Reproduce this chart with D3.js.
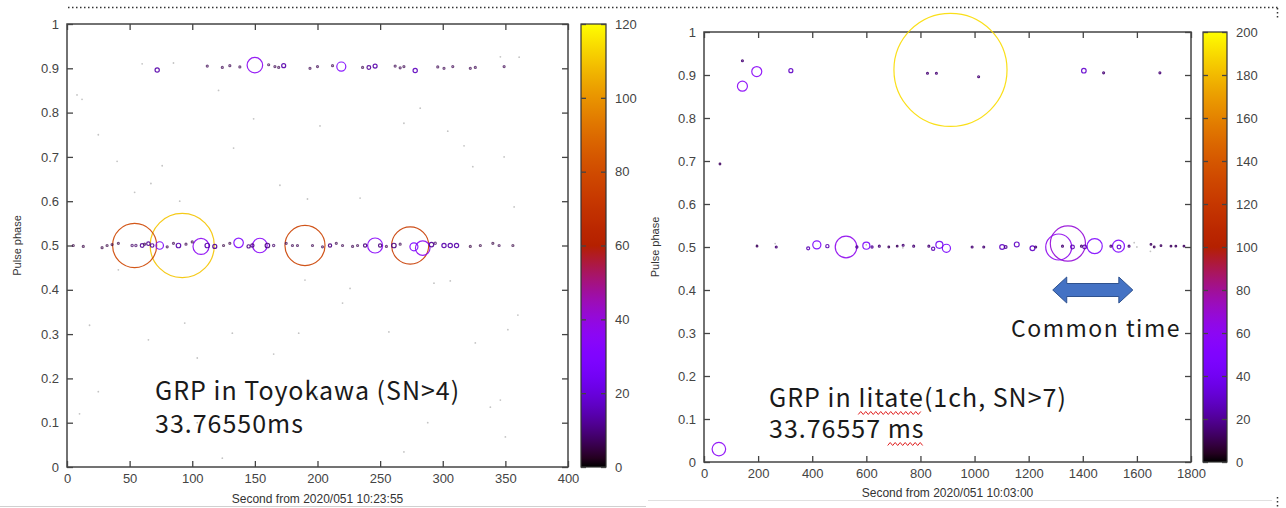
<!DOCTYPE html>
<html>
<head>
<meta charset="utf-8">
<script src="https://cdn.jsdelivr.net/npm/d3@7"></script>
<style>
html, body { margin: 0; padding: 0; background: #fff; }
svg { display: block; }
text { font-family: "Liberation Sans", Arial, sans-serif; }
.note { font-family: "Noto Sans CJK JP", "Noto Sans", sans-serif; fill: #1a1a1a; }
</style>
</head>
<body>
<svg id="fig" width="1286" height="508"></svg>
<script>
// pulses: [seconds, pulse phase, SN, circle radius in seconds]
var toyoPulses = [
	[54, 0.500, 78, 17.6], [92, 0.500, 110, 25.6], [190, 0.500, 76, 16.0], [274, 0.500, 74, 14.8],
	[107, 0.498, 36, 6.4], [150, 0.907, 36, 6.2], [154, 0.500, 34, 5.8], [246, 0.500, 34, 6.0],
	[284, 0.494, 36, 5.8], [137, 0.506, 30, 3.8], [219, 0.904, 30, 3.6], [74, 0.500, 28, 3.0],
	[277, 0.497, 28, 3.2],
	[72, 0.896, 14, 1.7], [173, 0.906, 14, 1.6], [241, 0.902, 12, 1.5], [246, 0.905, 14, 1.6],
	[278, 0.895, 16, 1.7], [60, 0.500, 12, 1.5], [89, 0.500, 14, 1.8], [112, 0.500, 14, 1.8],
	[118, 0.498, 12, 1.6], [160, 0.500, 10, 1.8], [261, 0.500, 10, 1.8], [291, 0.502, 12, 1.8],
	[301, 0.500, 14, 1.7], [306, 0.500, 14, 1.7], [311, 0.500, 14, 1.7], [65, 0.504, 12, 1.4],
	[68, 0.500, 12, 1.4], [145, 0.498, 10, 1.3], [148, 0.500, 10, 1.3], [210, 0.500, 10, 1.3],
	[238, 0.500, 10, 1.3], [250, 0.500, 10, 1.3],
	[112, 0.905, 6, 0.8], [124, 0.902, 6, 0.8], [130, 0.906, 6, 0.8], [138, 0.903, 6, 0.8],
	[161, 0.908, 6, 0.8], [166, 0.904, 6, 0.8], [169, 0.902, 6, 0.8], [194, 0.900, 6, 0.8],
	[200, 0.904, 6, 0.8], [212, 0.906, 6, 0.8], [236, 0.902, 6, 0.8], [262, 0.905, 6, 0.8],
	[266, 0.901, 6, 0.8], [269, 0.904, 6, 0.8], [296, 0.903, 6, 0.8], [301, 0.900, 6, 0.8],
	[308, 0.904, 6, 0.8], [322, 0.900, 6, 0.8], [326, 0.902, 6, 0.8], [349, 0.904, 6, 0.8],
	[5, 0.500, 5, 0.8], [13, 0.498, 5, 0.8], [28, 0.495, 5, 0.8], [32, 0.500, 5, 0.8],
	[36, 0.502, 5, 0.8], [41, 0.505, 5, 0.8], [52, 0.500, 8, 0.9], [55, 0.500, 8, 0.9],
	[62, 0.503, 6, 0.8], [80, 0.497, 6, 0.8], [85, 0.505, 6, 0.8], [95, 0.503, 6, 0.8],
	[100, 0.508, 5, 0.8], [125, 0.500, 5, 0.8], [130, 0.505, 5, 0.8], [165, 0.500, 8, 0.9],
	[175, 0.505, 6, 0.8], [180, 0.500, 6, 0.8], [184, 0.500, 6, 0.8], [196, 0.500, 6, 0.8],
	[204, 0.497, 6, 0.8], [215, 0.505, 6, 0.8], [220, 0.500, 6, 0.8], [228, 0.498, 6, 0.8],
	[232, 0.500, 6, 0.8], [255, 0.498, 6, 0.8], [266, 0.503, 6, 0.8], [294, 0.505, 8, 0.9],
	[322, 0.498, 5, 0.8], [330, 0.500, 5, 0.8], [340, 0.505, 5, 0.8], [345, 0.500, 6, 0.8],
	[356, 0.500, 5, 0.8]
];

// faint low-SN detections: [seconds, pulse phase]
var toyoNoise = [
	[8, 0.84], [12, 0.83], [25, 0.75], [40, 0.69], [54, 0.62], [67, 0.64], [76, 0.68], [90, 0.60],
	[121, 0.85], [133, 0.72], [149, 0.786], [192, 0.605], [170, 0.636], [202, 0.77],
	[18, 0.32], [41, 0.445], [65, 0.287], [94, 0.325], [104, 0.246], [132, 0.302], [165, 0.255],
	[185, 0.302], [190, 0.422], [200, 0.158], [124, 0.02], [104, 0.10], [25, 0.17], [10, 0.12],
	[293, 0.415], [306, 0.42], [257, 0.305], [326, 0.28], [352, 0.31], [346, 0.151], [338, 0.135],
	[288, 0.10], [350, 0.068], [269, 0.034], [220, 0.37], [226, 0.403], [360, 0.343],
	[346, 0.926], [361, 0.925], [282, 0.81], [349, 0.70], [324, 0.678], [317, 0.725], [304, 0.758],
	[234, 0.607], [357, 0.587], [269, 0.776], [60, 0.91], [85, 0.912]
];

var iitatePulses = [
	[911, 0.912, 190, 209], [55, 0.030, 58, 25], [142, 0.874, 58, 18.5], [195, 0.908, 58, 18.5],
	[321, 0.910, 28, 7.4], [1404, 0.910, 30, 8.5], [525, 0.500, 62, 40], [417, 0.505, 45, 15],
	[600, 0.503, 45, 13], [870, 0.505, 40, 13], [896, 0.497, 45, 15], [1311, 0.500, 62, 48],
	[1345, 0.508, 68, 65], [1444, 0.502, 50, 28], [1532, 0.502, 50, 22], [1534, 0.500, 30, 7],
	[385, 0.497, 25, 5.5], [456, 0.502, 25, 6], [621, 0.500, 20, 4], [847, 0.496, 25, 6],
	[1102, 0.500, 28, 9], [1115, 0.500, 20, 5], [1156, 0.506, 28, 9], [1214, 0.497, 28, 9],
	[1362, 0.500, 25, 7], [1407, 0.500, 25, 7],
	[142, 0.933, 15, 3.5], [826, 0.904, 15, 3.5], [859, 0.904, 15, 3.5], [1015, 0.896, 15, 3.5],
	[1477, 0.905, 15, 3.5], [1685, 0.905, 15, 3.5], [59, 0.693, 12, 3],
	[196, 0.502, 12, 3], [267, 0.500, 15, 3.5], [565, 0.500, 20, 4], [648, 0.502, 15, 3.5],
	[683, 0.500, 12, 3], [714, 0.502, 12, 3], [736, 0.504, 15, 3.5], [775, 0.502, 15, 3.5],
	[831, 0.502, 15, 3.5], [991, 0.500, 15, 3.5], [1034, 0.500, 15, 3.5], [1226, 0.500, 15, 3.5],
	[1325, 0.502, 15, 3.5], [1395, 0.502, 15, 3.5], [1504, 0.502, 15, 3.5], [1571, 0.502, 15, 3.5],
	[1652, 0.506, 12, 3], [1664, 0.500, 12, 3], [1689, 0.503, 12, 3], [1726, 0.502, 12, 3],
	[1744, 0.502, 12, 3], [1774, 0.502, 12, 3]
];

var iitateNoise = [
	[195, 0.505], [263, 0.508], [600, 0.505], [735, 0.498], [1590, 0.51], [1600, 0.50], [1650, 0.49]
];

var phaseTicks = [0, 0.1, 0.2, 0.3, 0.4, 0.5, 0.6, 0.7, 0.8, 0.9, 1];
var toyoTimeTicks = [0, 50, 100, 150, 200, 250, 300, 350, 400];
var iitateTimeTicks = [0, 200, 400, 600, 800, 1000, 1200, 1400, 1600, 1800];
var toyoSnTicks = [0, 20, 40, 60, 80, 100, 120];
var iitateSnTicks = [0, 20, 40, 60, 80, 100, 120, 140, 160, 180, 200];

// common time window marked on the Iitate panel: [from s, to s]
var commonTime = [1289, 1585];

var svg = d3.select('#fig');

// gnuplot "rgbformulae 7,5,15"
function gnuPalette(t) {
	var r = Math.sqrt(t), g = t * t * t, b = Math.max(0, Math.sin(2 * Math.PI * t));
	return d3.rgb(r * 255, g * 255, b * 255).toString();
}

function styleAxis(sel) {
	sel.select('.domain').remove();
	sel.selectAll('line').attr('stroke', '#444').attr('stroke-width', 1.3);
	sel.selectAll('text').attr('fill', '#444').style('font-size', '13px');
}

function drawPanel(o) {
	var g = svg.append('g');
	var x = d3.scaleLinear().domain(o.xDomain).range([o.left, o.right]);
	var y = d3.scaleLinear().domain([0, 1]).range([o.bottom, o.top]);
	var color = d3.scaleSequential(gnuPalette).domain([0, o.snMax]);
	var fmt = d3.format('.1~f');

	g.append('g').attr('transform', 'translate(0,' + o.bottom + ')')
		.call(d3.axisBottom(x).tickValues(o.xTicks).tickSizeInner(-6).tickSizeOuter(0).tickPadding(7).tickFormat(d3.format('d')))
		.call(styleAxis);
	g.append('g').attr('transform', 'translate(0,' + o.top + ')')
		.call(d3.axisTop(x).tickValues(o.xTicks).tickSizeInner(-6).tickSizeOuter(0).tickFormat(''))
		.call(styleAxis);
	g.append('g').attr('transform', 'translate(' + o.left + ',0)')
		.call(d3.axisLeft(y).tickValues(phaseTicks).tickSizeInner(-6).tickSizeOuter(0).tickPadding(8).tickFormat(fmt))
		.call(styleAxis);
	g.append('g').attr('transform', 'translate(' + o.right + ',0)')
		.call(d3.axisRight(y).tickValues(phaseTicks).tickSizeInner(-6).tickSizeOuter(0).tickFormat(''))
		.call(styleAxis);

	g.append('rect')
		.attr('x', o.left).attr('y', o.top)
		.attr('width', o.right - o.left).attr('height', o.bottom - o.top)
		.attr('fill', 'none').attr('stroke', '#444').attr('stroke-width', 1.5);

	// faint scatter
	g.append('g').selectAll('circle').data(o.noise).join('circle')
		.attr('cx', function(d) {return x(d[0])})
		.attr('cy', function(d) {return y(d[1])})
		.attr('r', 0.9)
		.attr('fill', '#c4c4c4');

	var pulses = o.pulses.slice().sort(function(a, b) {return b[3] - a[3]});
	g.append('g').selectAll('circle').data(pulses).join('circle')
		.attr('cx', function(d) {return x(d[0])})
		.attr('cy', function(d) {return y(d[1])})
		.attr('r', function(d) {return Math.max(0.8, x(d[3]) - x(0))})
		.attr('fill', 'none')
		.attr('stroke', function(d) {return color(d[2])})
		.attr('stroke-opacity', function(d) {return d[2] < 10 ? 0.7 : 0.9})
		.attr('stroke-width', 1.2);

	// colour box
	var gradId = 'grad' + o.name;
	var grad = svg.append('defs').append('linearGradient').attr('id', gradId)
		.attr('x1', 0).attr('y1', 1).attr('x2', 0).attr('y2', 0);
	grad.selectAll('stop').data(d3.range(0, 1.0001, 0.02)).join('stop')
		.attr('offset', function(t) {return t})
		.attr('stop-color', function(t) {return gnuPalette(t)});
	var cb = d3.scaleLinear().domain([0, o.snMax]).range([o.bottom, o.top]);
	g.append('rect')
		.attr('x', o.cbLeft).attr('y', o.top)
		.attr('width', o.cbRight - o.cbLeft).attr('height', o.bottom - o.top)
		.attr('fill', 'url(#' + gradId + ')')
		.attr('stroke', '#333').attr('stroke-width', 1.2);
	g.append('g').attr('transform', 'translate(' + o.cbRight + ',0)')
		.call(d3.axisRight(cb).tickValues(o.snTicks).tickSizeInner(-5).tickSizeOuter(0).tickPadding(9))
		.call(styleAxis);
	g.append('g').attr('transform', 'translate(' + o.cbLeft + ',0)')
		.call(d3.axisLeft(cb).tickValues(o.snTicks).tickSizeInner(-5).tickSizeOuter(0).tickFormat(''))
		.call(styleAxis);

	// axis titles
	g.append('text')
		.attr('transform', 'translate(' + o.yTitleX + ',' + ((o.top + o.bottom) / 2) + ') rotate(-90)')
		.attr('text-anchor', 'middle').attr('dy', '0.35em')
		.style('font-size', '11px').attr('fill', '#333')
		.text('Pulse phase');
	g.append('text')
		.attr('x', (o.left + o.right) / 2).attr('y', o.xTitleY)
		.attr('text-anchor', 'middle').attr('dy', '0.35em')
		.style('font-size', '12px').attr('fill', '#333')
		.text(o.xTitle);

	// annotation
	var note = g.append('g');
	o.lines.forEach(function(line, i) {
		var t = note.append('text').attr('class', 'note')
			.attr('x', o.noteX).attr('y', o.noteY + i * o.noteStep)
			.style('font-size', o.noteSize + 'px')
			.style('letter-spacing', o.noteSpacing + 'px')
			.text(line.text);
		if (line.squiggle) {
			var node = t.node();
			var x0 = node.getStartPositionOfChar(line.squiggle[0]).x;
			var x1 = node.getEndPositionOfChar(line.squiggle[1]).x - o.noteSpacing;
			var yy = o.noteY + i * o.noteStep + 6;
			var pts = d3.range(x0, x1 + 0.1, 2.5).map(function(px, k) {return [px, yy + (k % 2 ? -1.5 : 1.5)]});
			note.append('path').attr('d', d3.line()(pts))
				.attr('fill', 'none').attr('stroke', '#e02020').attr('stroke-width', 1);
		}
	});

	return {x: x, y: y, g: g};
}

var left = drawPanel({
	name: 'toyo', left: 67, right: 568, top: 24, bottom: 467,
	xDomain: [0, 400], xTicks: toyoTimeTicks, snMax: 120, snTicks: toyoSnTicks,
	cbLeft: 581, cbRight: 606,
	pulses: toyoPulses, noise: toyoNoise,
	yTitleX: 17, xTitleY: 499, xTitle: 'Second from 2020/051 10:23:55',
	noteX: 155, noteY: 400, noteStep: 33, noteSize: 25, noteSpacing: 1,
	lines: [{text: 'GRP in Toyokawa (SN>4)'}, {text: '33.76550ms'}]
});

var right = drawPanel({
	name: 'iitate', left: 704, right: 1191, top: 32, bottom: 462,
	xDomain: [0, 1800], xTicks: iitateTimeTicks, snMax: 200, snTicks: iitateSnTicks,
	cbLeft: 1203, cbRight: 1227,
	pulses: iitatePulses, noise: iitateNoise,
	yTitleX: 655, xTitleY: 493, xTitle: 'Second from 2020/051 10:03:00',
	noteX: 769, noteY: 407, noteStep: 31, noteSize: 25, noteSpacing: 1,
	lines: [{text: 'GRP in Iitate(1ch, SN>7)', squiggle: [7, 12]}, {text: '33.76557 ms', squiggle: [9, 10]}]
});

// double arrow over the common time window
var ax = right.x, ay = right.y;
var xa = ax(commonTime[0]), xb = ax(commonTime[1]), yc = ay(0.4);
var head = 14, half = 13, shaft = 6.5;
var arrow = [
	[xa, yc], [xa + head, yc - half], [xa + head, yc - shaft], [xb - head, yc - shaft],
	[xb - head, yc - half], [xb, yc], [xb - head, yc + half], [xb - head, yc + shaft],
	[xa + head, yc + shaft], [xa + head, yc + half]
];
right.g.append('path')
	.attr('d', d3.line()(arrow) + 'Z')
	.attr('fill', '#4472c4').attr('stroke', '#2f528f').attr('stroke-width', 1);
right.g.append('text').attr('class', 'note')
	.attr('x', ax(1763)).attr('y', ay(0.29))
	.attr('text-anchor', 'end')
	.style('font-size', '23px')
	.style('letter-spacing', '1.5px')
	.text('Common time');

// slide decorations
svg.append('line').attr('x1', 68).attr('x2', 1280).attr('y1', 7.5).attr('y2', 7.5)
	.attr('stroke', '#333').attr('stroke-width', 1.5).attr('stroke-dasharray', '1.5,2.5');
svg.append('line').attr('x1', 1277.5).attr('x2', 1277.5).attr('y1', 8).attr('y2', 18)
	.attr('stroke', '#333').attr('stroke-width', 1.5).attr('stroke-dasharray', '1.5,2.5');
svg.append('line').attr('x1', 1277.5).attr('x2', 1277.5).attr('y1', 497).attr('y2', 507)
	.attr('stroke', '#333').attr('stroke-width', 1.5).attr('stroke-dasharray', '1.5,2.5');
svg.append('line').attr('x1', 0).attr('x2', 646).attr('y1', 506.5).attr('y2', 506.5)
	.attr('stroke', '#d0d0d0').attr('stroke-width', 1);
svg.append('line').attr('x1', 648).attr('x2', 1272).attr('y1', 500.5).attr('y2', 500.5)
	.attr('stroke', '#e0e0e0').attr('stroke-width', 1);
</script>
</body>
</html>
